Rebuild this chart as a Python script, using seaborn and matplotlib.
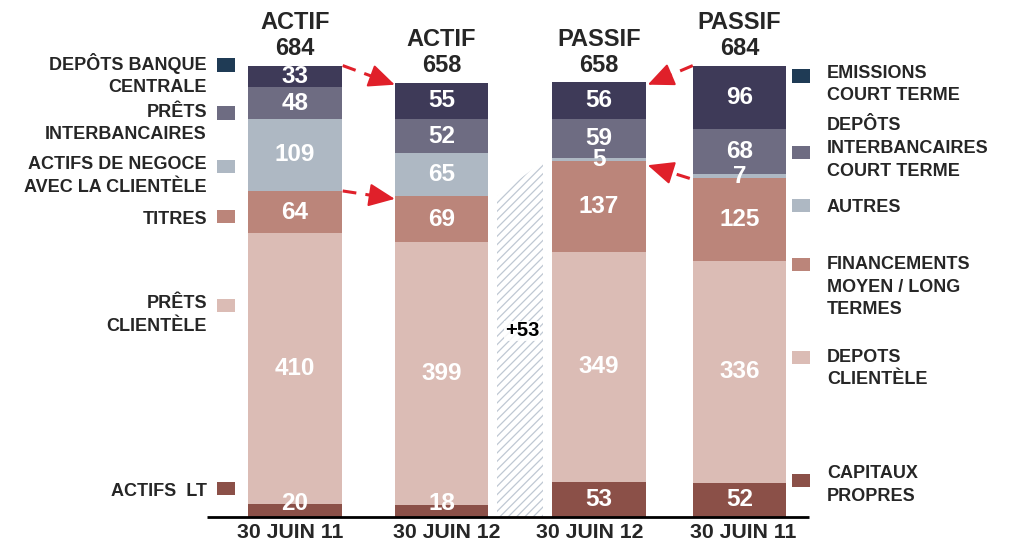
import numpy as np
import pandas as pd
import matplotlib
matplotlib.use("Agg")
import matplotlib.pyplot as plt
import seaborn as sns
from matplotlib.patches import Rectangle

# ---------------- data ----------------
period_labels = ["30 JUIN 11", "30 JUIN 12", "30 JUIN 12", "30 JUIN 11"]
side_titles = ["ACTIF", "ACTIF", "PASSIF", "PASSIF"]
totals = [684, 658, 658, 684]

# stacked from bottom to top
actif_items = ["ACTIFS  LT", "PRÊTS\nCLIENTÈLE", "TITRES",
               "ACTIFS DE NEGOCE\nAVEC LA CLIENTÈLE", "PRÊTS\nINTERBANCAIRES",
               "DEPÔTS BANQUE\nCENTRALE"]
passif_items = ["CAPITAUX\nPROPRES", "DEPOTS\nCLIENTÈLE",
                "FINANCEMENTS\nMOYEN / LONG\nTERMES", "AUTRES",
                "DEPÔTS\nINTERBANCAIRES\nCOURT TERME", "EMISSIONS\nCOURT TERME"]
actif_jun11 = [20, 410, 64, 109, 48, 33]
actif_jun12 = [18, 399, 69, 65, 52, 55]
passif_jun12 = [53, 349, 137, 5, 59, 56]
passif_jun11 = [52, 336, 125, 7, 68, 96]
gap_label = "+53"

# ---------------- style ----------------
sns.set_theme(style="white")
plt.rcParams['font.family'] = ['Liberation Sans', 'DejaVu Sans']
plt.rcParams['font.weight'] = 'bold'
plt.rcParams['hatch.linewidth'] = 0.9

W, H = 1011, 544
fig = plt.figure(figsize=(W / 100, H / 100), dpi=100)
ax = fig.add_axes([0, 0, 1, 1])
BASE = 517.0   # pixel row of the baseline
S = 0.66       # pixels per unit

def fx(px):
    return px / W

def fy(py):
    return 1 - py / H

bar_x = [295, 441.5, 599, 739.5]
bar_w = 0.665
layer_colors = ["#8B5048", "#DBBCB5", "#BB857A", "#AEB8C3", "#6E6C82", "#3E3A58"]
legend_colors = ["#8B5048", "#DBBCB5", "#BB857A", "#AEB8C3", "#6E6C82", "#1F3B55"]

stacks = [actif_jun11, actif_jun12, passif_jun12, passif_jun11]
rows = []
for b, (x, vals) in enumerate(zip(bar_x, stacks)):
    cum = np.cumsum(vals)
    for k, v in enumerate(vals):
        rows.append(dict(bar=b, x=x, layer=k, value=v,
                         top=cum[k], bottom=cum[k] - v))
df = pd.DataFrame(rows)

for k in range(5, -1, -1):
    sub = df[df.layer == k]
    sns.barplot(data=sub, x="x", y="top", native_scale=True,
                color=layer_colors[k], saturation=1, width=bar_w,
                errorbar=None, linewidth=0, ax=ax, zorder=2)

ax.set_xlim(0, W)
ax.set_ylim(-(H - BASE) / S, BASE / S)
ax.axis("off")

# value labels
for r in df.itertuples():
    mid = (r.bottom + r.top) / 2
    if r.layer == 0:
        mid = max(mid, 20)
    ax.text(r.x, mid, str(r.value), color="white", fontsize=17.5,
            ha="center", va="center", fontweight="bold", zorder=5)

# titles above bars
for x, t, tot, vals in zip(bar_x, side_titles, totals, stacks):
    ax.annotate(f"{t}\n{tot}", xy=(x, sum(vals)), xytext=(0, 4),
                textcoords="offset points", ha="center", va="bottom",
                fontsize=17, linespacing=1.15, fontweight="bold")

# hatched gap area between ACTIF 12 and PASSIF 12
left_top = sum(actif_jun12[:3])
right_top = sum(passif_jun12[:3])
ax.fill_between([497, 543], [left_top, right_top], [0, 0],
                facecolor="white", edgecolor="#BFC8D3", hatch="////",
                linewidth=0, zorder=1)
ax.text(522, (BASE - 331) / S, gap_label, ha="center", va="center",
        fontsize=14.5, fontweight="bold", color="black", zorder=6,
        bbox=dict(facecolor="white", edgecolor="none", pad=0.3, alpha=0.85))

# baseline
ax.plot([207, 809], [0, 0], color="black", lw=2, zorder=6,
        solid_capstyle="butt")

# red dashed arrows: dashed shaft + solid head
red = "#E0202A"
def arrow(p0, p1):
    p0 = np.array(p0, float)
    p1 = np.array(p1, float)
    # direction in pixel space
    d = np.array([p1[0] - p0[0], (p1[1] - p0[1]) * S])
    L = np.hypot(*d)
    u = d / L
    def back(dist):
        return np.array([p1[0] - u[0] * dist, p1[1] - u[1] * dist / S])
    q = back(12)
    ax.plot([p0[0], q[0]], [p0[1], q[1]], color=red, lw=2.2,
            linestyle=(0, (4.5, 3)), zorder=7, solid_capstyle="butt",
            dash_capstyle="butt")
    ax.annotate("", xy=p1, xytext=back(18),
                arrowprops=dict(arrowstyle="-|>,head_length=0.9,head_width=0.4",
                                color=red, lw=1.5, shrinkA=0, shrinkB=0,
                                mutation_scale=18),
                zorder=7)

hw = bar_w * 140.5 / 2
arrow((bar_x[0] + hw + 1, totals[0]), (bar_x[1] - hw, sum(actif_jun12) - 3))
arrow((bar_x[0] + hw + 1, sum(actif_jun11[:3])), (bar_x[1] - hw, sum(actif_jun12[:3]) - 4))
arrow((bar_x[3] - hw, sum(passif_jun11)), (bar_x[2] + hw + 2, sum(passif_jun12) - 4))
arrow((bar_x[3] - hw - 3, sum(passif_jun11[:3])), (bar_x[2] + hw + 2, sum(passif_jun12[:3]) - 6))

# x labels
label_x = [290, 447, 590, 743]
for x, lab in zip(label_x, period_labels):
    fig.text(fx(x), fy(533), lab, ha="center", va="center",
             fontsize=15.3, fontweight="bold")

# left legend (actif)
left_text_y = [491, 315, 220, 176, 123.5, 74.5]
left_sq_y = [488.5, 305.5, 216.5, 166.5, 113, 65]
for lab, ty, sy, c in zip(actif_items, left_text_y, left_sq_y, legend_colors):
    fig.text(fx(207), fy(ty), lab, ha="right", va="center", fontsize=13,
             fontweight="bold", linespacing=1.45)
    fig.patches.append(Rectangle((fx(217), fy(sy + 6.5)), 18 / W, 13 / H,
                                 transform=fig.transFigure, facecolor=c,
                                 edgecolor="none"))

# right legend (passif)
right_text_y = [485, 368.5, 287, 207, 148.5, 84.5]
right_sq_y = [480.5, 357, 264.5, 205, 152, 76]
for lab, ty, sy, c in zip(passif_items, right_text_y, right_sq_y, legend_colors):
    fig.text(fx(827), fy(ty), lab, ha="left", va="center", fontsize=13,
             fontweight="bold", linespacing=1.45)
    fig.patches.append(Rectangle((fx(792), fy(sy + 6.5)), 18 / W, 13 / H,
                                 transform=fig.transFigure, facecolor=c,
                                 edgecolor="none"))

fig.savefig("out.png", dpi=100)
